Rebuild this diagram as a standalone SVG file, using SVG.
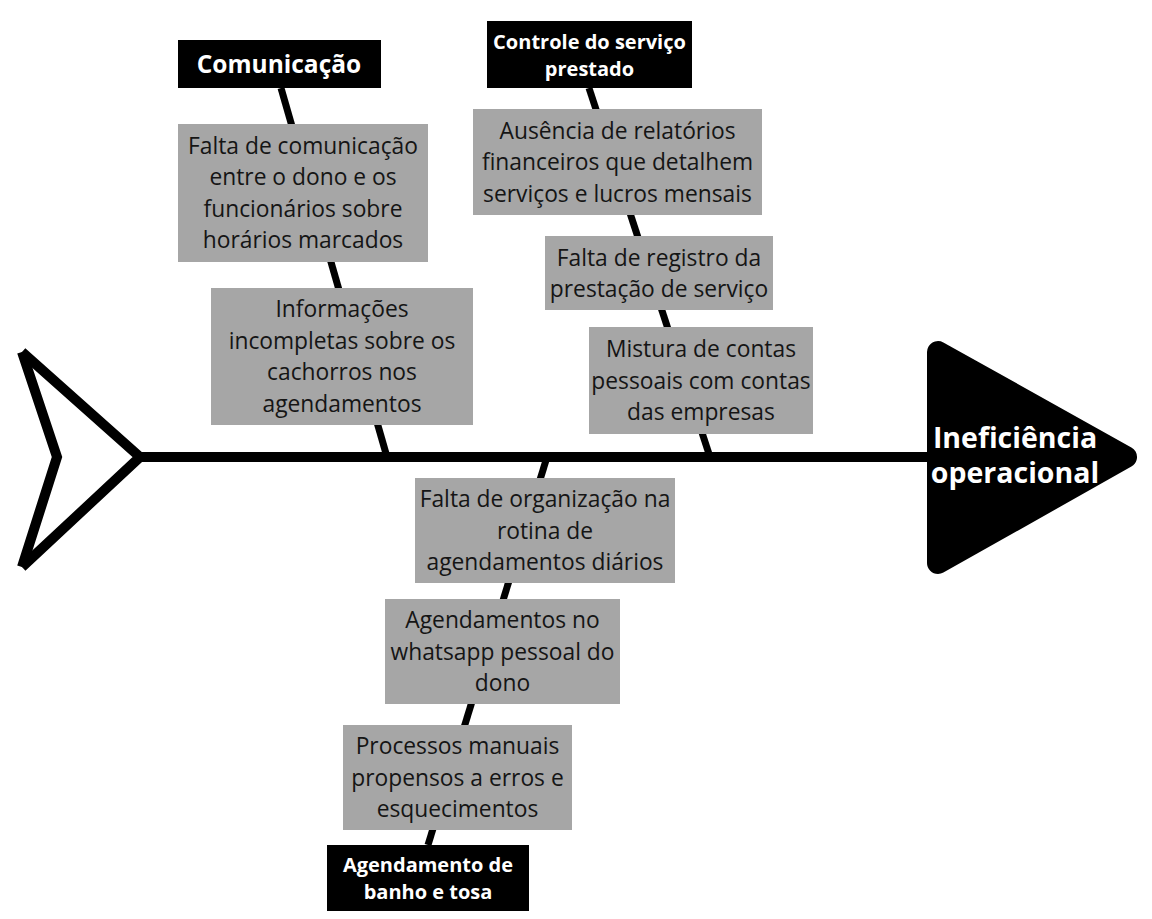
<svg xmlns="http://www.w3.org/2000/svg" width="1152" height="919" viewBox="0 0 1152 919">
<style>
.bone{stroke:#000;stroke-width:7;fill:none}
.spine{stroke:#000;stroke-width:10;fill:none}
.cause{fill:#a6a6a6}
.label{fill:#000}
.ct{font-family:"Open Sans","DejaVu Sans",sans-serif;font-size:22.8px;fill:#151515;text-anchor:middle}
.lt{font-family:"Open Sans","DejaVu Sans",sans-serif;font-weight:bold;font-size:20px;fill:#fff;text-anchor:middle}
</style>
<rect width="1152" height="919" fill="#fff"/>
<g id="connectors">
<line class="bone" x1="281" y1="88" x2="387" y2="457"/>
<line class="bone" x1="589" y1="88" x2="710" y2="457"/>
<line class="bone" x1="547" y1="457" x2="428" y2="845"/>
<line class="spine" x1="138" y1="457" x2="935" y2="457"/>
</g>
<g id="tail">
<path class="spine" d="M22,352 L140,457 L22,567" stroke-linejoin="miter"/>
<path class="spine" d="M22,352 L57,457 L22,567" stroke-linejoin="miter"/>
</g>
<g id="head">
<polygon points="938,352 938,563 1126,457" fill="#000" stroke="#000" stroke-width="22" stroke-linejoin="round"/>
<text x="1015" y="448" font-family="'Open Sans','DejaVu Sans',sans-serif" font-weight="bold" font-size="28.5" fill="#fff" text-anchor="middle">Ineficiência</text>
<text x="1015" y="483" font-family="'Open Sans','DejaVu Sans',sans-serif" font-weight="bold" font-size="28.5" fill="#fff" text-anchor="middle">operacional</text>
</g>
<g id="comunicacao">
<rect class="label" x="178" y="40" width="203" height="48"/>
<text class="lt" x="279" y="73" style="font-size:24.5px">Comunicação</text>
</g>
<g id="controle">
<rect class="label" x="487" y="21" width="205" height="67"/>
<text class="lt" x="589.5" y="48.5">Controle do serviço</text>
<text class="lt" x="589.5" y="75.5">prestado</text>
</g>
<g id="agendamento">
<rect class="label" x="327" y="845" width="202" height="66"/>
<text class="lt" x="428" y="872">Agendamento de</text>
<text class="lt" x="428" y="899">banho e tosa</text>
</g>
<g id="c1">
<rect class="cause" x="178" y="124" width="250" height="138"/>
<text class="ct" x="303" y="153.5">Falta de comunicação</text>
<text class="ct" x="303" y="185">entre o dono e os</text>
<text class="ct" x="303" y="216.5">funcionários sobre</text>
<text class="ct" x="303" y="248">horários marcados</text>
</g>
<g id="c2">
<rect class="cause" x="211" y="288" width="262" height="137"/>
<text class="ct" x="342" y="317">Informações</text>
<text class="ct" x="342" y="348.5">incompletas sobre os</text>
<text class="ct" x="342" y="380">cachorros nos</text>
<text class="ct" x="342" y="411.5">agendamentos</text>
</g>
<g id="c3">
<rect class="cause" x="473" y="109" width="289" height="106"/>
<text class="ct" x="617.5" y="138.5">Ausência de relatórios</text>
<text class="ct" x="617.5" y="170">financeiros que detalhem</text>
<text class="ct" x="617.5" y="201.5">serviços e lucros mensais</text>
</g>
<g id="c4">
<rect class="cause" x="545" y="236" width="228" height="74"/>
<text class="ct" x="659" y="265.5">Falta de registro da</text>
<text class="ct" x="659" y="297">prestação de serviço</text>
</g>
<g id="c5">
<rect class="cause" x="589" y="327" width="224" height="107"/>
<text class="ct" x="701" y="357">Mistura de contas</text>
<text class="ct" x="701" y="388.5">pessoais com contas</text>
<text class="ct" x="701" y="420">das empresas</text>
</g>
<g id="c6">
<rect class="cause" x="415" y="478" width="260" height="105"/>
<text class="ct" x="545" y="507">Falta de organização na</text>
<text class="ct" x="545" y="538.5">rotina de</text>
<text class="ct" x="545" y="570">agendamentos diários</text>
</g>
<g id="c7">
<rect class="cause" x="385" y="599" width="235" height="105"/>
<text class="ct" x="502.5" y="628">Agendamentos no</text>
<text class="ct" x="502.5" y="659.5">whatsapp pessoal do</text>
<text class="ct" x="502.5" y="691">dono</text>
</g>
<g id="c8">
<rect class="cause" x="343" y="725" width="229" height="105"/>
<text class="ct" x="457.5" y="754">Processos manuais</text>
<text class="ct" x="457.5" y="785.5">propensos a erros e</text>
<text class="ct" x="457.5" y="817">esquecimentos</text>
</g>
</svg>
